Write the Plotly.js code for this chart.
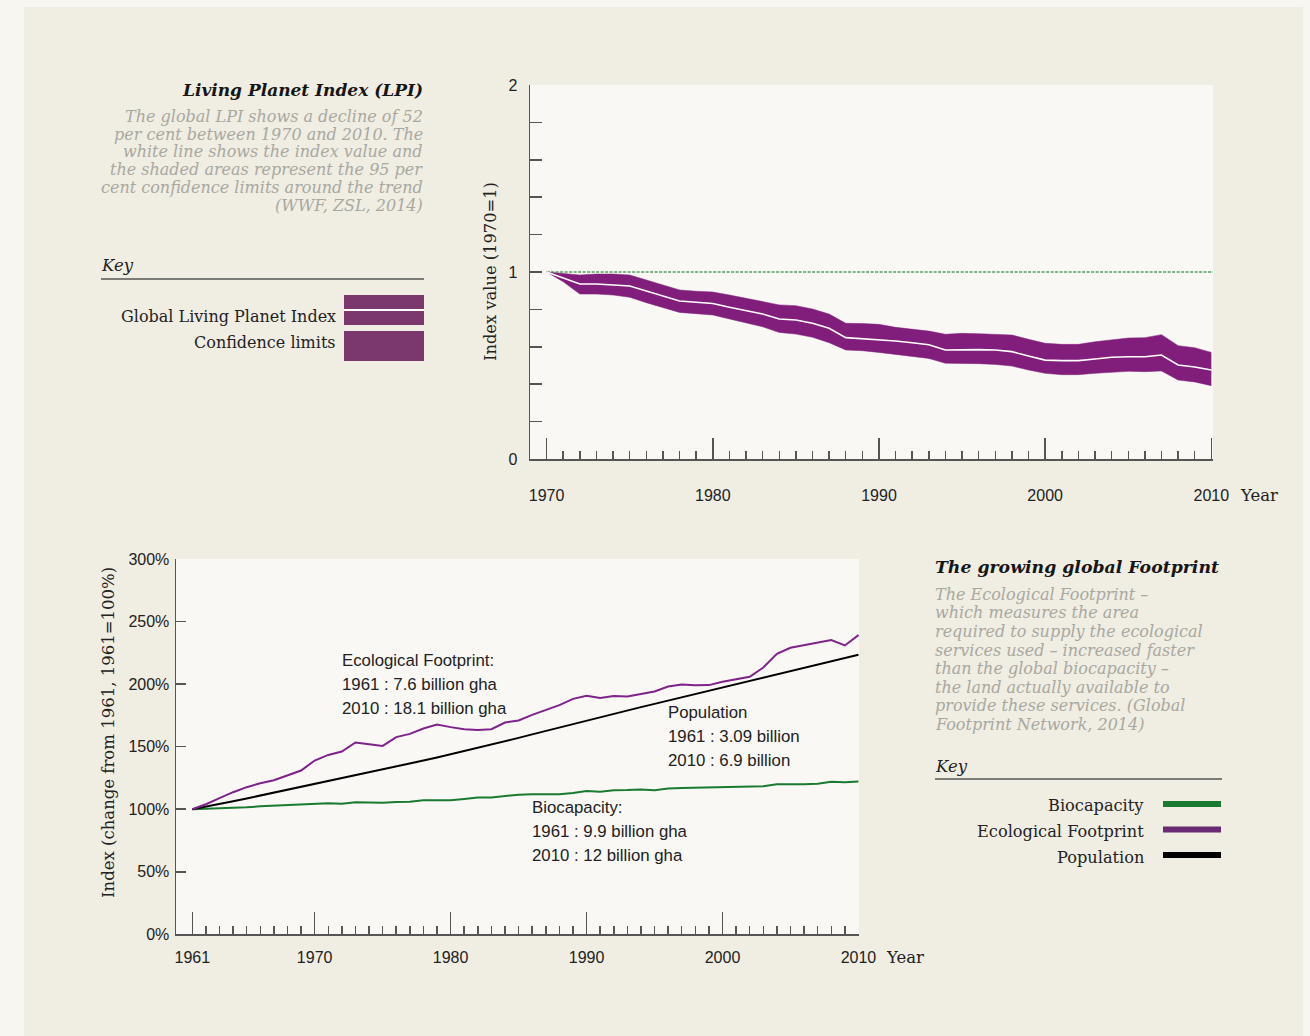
<!DOCTYPE html>
<html><head><meta charset="utf-8">
<script src="https://cdn.plot.ly/plotly-3.0.1.min.js"></script>
<style>
html,body{margin:0;padding:0;background:#f7f6f1;}
#wrap{position:relative;width:1310px;height:1036px;overflow:hidden;}
#panel{position:absolute;left:24px;top:7px;width:1279px;height:1029px;background:#f0ede2;}
#chart{position:absolute;left:0;top:0;width:1310px;height:1036px;}
</style>
</head><body>
<div id="wrap"><div id="panel"></div><div id="chart"></div></div>
<script>
// ---------- Living Planet Index (1970 = 1) ----------
const lpiYears = [1970,1971,1972,1973,1974,1975,1976,1977,1978,1979,1980,1981,1982,1983,1984,1985,1986,1987,1988,1989,1990,
                  1991,1992,1993,1994,1995,1996,1997,1998,1999,2000,2001,2002,2003,2004,2005,2006,2007,2008,2009,2010];
const lpiIndex = [1.000,0.966,0.936,0.936,0.932,0.925,0.898,0.872,0.845,0.838,0.832,0.811,0.791,0.775,0.749,0.743,0.726,0.699,0.649,0.643,0.640,
                  0.631,0.622,0.611,0.583,0.586,0.585,0.583,0.574,0.551,0.529,0.526,0.526,0.535,0.544,0.547,0.547,0.556,0.503,0.492,0.476];
const lpiUpper = [1.000,0.993,0.984,0.989,0.989,0.984,0.957,0.930,0.904,0.897,0.893,0.877,0.859,0.845,0.824,0.820,0.802,0.775,0.726,0.724,0.720,
                  0.704,0.693,0.684,0.667,0.672,0.670,0.668,0.663,0.640,0.619,0.613,0.613,0.627,0.638,0.647,0.649,0.665,0.606,0.595,0.570];
const lpiLower = [1.000,0.948,0.882,0.882,0.877,0.865,0.836,0.809,0.784,0.777,0.770,0.749,0.726,0.707,0.677,0.668,0.651,0.622,0.583,0.579,0.570,
                  0.560,0.551,0.538,0.512,0.512,0.510,0.506,0.497,0.476,0.458,0.451,0.451,0.458,0.465,0.469,0.467,0.471,0.422,0.412,0.392];
const lpiBase = 1;
const lpiMajorTicks = [1970,1980,1990,2000,2010];
const lpiYTicks = [0,0.2,0.4,0.6,0.8,1,1.2,1.4,1.6,1.8,2];
const lpiYTickText = ['0','','','','','1','','','','','2'];

// ---------- Ecological Footprint, Biocapacity, Population (1961 = 100%) ----------
const fpYears = [1961,1962,1963,1964,1965,1966,1967,1968,1969,1970,1971,1972,1973,1974,1975,1976,1977,1978,1979,1980,
                 1981,1982,1983,1984,1985,1986,1987,1988,1989,1990,1991,1992,1993,1994,1995,1996,1997,1998,1999,2000,
                 2001,2002,2003,2004,2005,2006,2007,2008,2009,2010];
const ecoFootprint = [100,104,108.8,113.6,117.6,120.8,123.2,126.9,130.9,138.9,
                      143.4,146.1,153.3,152,150.6,157.6,160.2,164.5,167.7,165.6,
                      164,163.4,164,169.3,170.9,175.4,179.4,183.2,188.2,190.6,
                      188.8,190.4,190.1,192,194.1,198.1,199.6,199.0,199.2,201.8,
                      203.7,205.8,213.3,224.2,229,231.2,233.6,235.2,230.9,239.2];
const biocapacity = [100,100.3,100.6,101,101.5,102.3,102.8,103.2,103.5,104.2,
                     104.8,104.4,105.6,105.4,105.2,105.8,105.9,107.1,107.3,107.2,
                     108.2,109.3,109.4,110.8,111.6,112,112.2,111.9,113.0,114.6,
                     113.9,115.2,115.3,115.8,115.2,116.6,116.9,117.1,117.4,117.8,
                     117.9,118.0,118.3,119.9,119.8,119.9,120.4,121.9,121.6,122.1];
const population = [100,102.0,104.2,106.4,108.6,110.9,113.1,115.4,117.7,120.0,
                    122.4,124.8,127.2,129.6,131.9,134.2,136.5,138.9,141.4,143.9,
                    146.4,149.0,151.6,154.3,157.0,159.8,162.6,165.4,168.2,171.0,
                    173.7,176.3,179.0,181.6,184.2,186.8,189.4,192.0,194.6,197.2,
                    199.8,202.4,205.0,207.6,210.3,213.0,215.6,218.3,220.9,223.5];
const fpMajorTicks = [1961,1970,1980,1990,2000,2010];
const fpYTicks = [0,50,100,150,200,250,300];
const fpYTickText = ['0%','50%','100%','150%','200%','250%','300%'];

// ---------- Texts ----------
const lpiTitle = 'Living Planet Index (LPI)';
const lpiNote = ['The global LPI shows a decline of 52','per cent between 1970 and 2010. The','white line shows the index value and',
                 'the shaded areas represent the 95 per','cent confidence limits around the trend','(WWF, ZSL, 2014)'];
const lpiKeyLabels = ['Global Living Planet Index','Confidence limits'];
const fpTitle = 'The growing global Footprint';
const fpNote = ['The Ecological Footprint –','which measures the area','required to supply the ecological','services used – increased faster',
                'than the global biocapacity –','the land actually available to','provide these services. (Global','Footprint Network, 2014)'];
const fpKeyLabels = ['Biocapacity','Ecological Footprint','Population'];
const efNote = ['Ecological Footprint:','1961 : 7.6 billion gha','2010 : 18.1 billion gha'];
const popNote = ['Population','1961 : 3.09 billion','2010 : 6.9 billion'];
const bioNote = ['Biocapacity:','1961 : 9.9 billion gha','2010 : 12 billion gha'];

// ---------- Styling ----------
const W = 1310, H = 1036;
const SERIF = 'DejaVu Serif, Georgia, serif';
const SANS = 'Liberation Sans, Arial, sans-serif';
const BAND = '#811e7c', KEYPURPLE = '#7b386e';
const GREEN = '#1a7a30', PURPLE = '#7e2389', BLACK = '#000000';
const AX = '#555555', TXT = '#222222', GREY = '#a8a8a1';
const px = x => x / W, py = y => 1 - y / H;

function note(text, x, y, anchor, font) {
  return {xref:'paper', yref:'paper', x:px(x), y:py(y), text:text, showarrow:false,
          xanchor:anchor, yanchor:'middle', font:font};
}
const serif = (size, color) => ({family: SERIF, size: size, color: color});
const annotations = [];

// left text block
annotations.push(note('<b><i>' + lpiTitle + '</i></b>', 425, 90, 'right', serif(17, '#161616')));
lpiNote.forEach((t, i) => annotations.push(note('<i>' + t + '</i>', 425, 116.5 + i * 17.7, 'right', serif(16, GREY))));
annotations.push(note('<i>Key</i>', 99, 265, 'left', serif(16.5, TXT)));
lpiKeyLabels.forEach((t, i) => annotations.push(note(t, 338, 316 + i * 26, 'right', serif(16, TXT))));

// right text block
annotations.push(note('<b><i>' + fpTitle + '</i></b>', 933, 567, 'left', serif(17.3, '#161616')));
fpNote.forEach((t, i) => annotations.push(note('<i>' + t + '</i>', 933, 594.3 + i * 18.6, 'left', serif(16, GREY))));
annotations.push(note('<i>Key</i>', 933, 766, 'left', serif(16.5, TXT)));
fpKeyLabels.forEach((t, i) => annotations.push(note(t, 1146, 805.5 + i * 26, 'right', serif(16.2, TXT))));

// axis titles and "Year"
annotations.push(Object.assign(note('Index value (1970=1)', 491, 272, 'center', serif(16.3, TXT)), {textangle:-90}));
annotations.push(Object.assign(note('Index (change from 1961, 1961=100%)', 108, 733, 'center', serif(16.5, TXT)), {textangle:-90}));
annotations.push(note('Year', 1238, 495, 'left', serif(16.5, TXT)));
annotations.push(note('Year', 884, 957, 'left', serif(16.5, TXT)));

// series notes in the footprint chart
const sansFont = {family: SANS, size: 16.8, color: TXT};
efNote.forEach((t, i) => annotations.push(note(t, 340, 660 + i * 24, 'left', sansFont)));
popNote.forEach((t, i) => annotations.push(note(t, 666, 712 + i * 24, 'left', sansFont)));
bioNote.forEach((t, i) => annotations.push(note(t, 530, 807 + i * 24, 'left', sansFont)));

// key swatches and rules
const shapes = [
  {type:'line', xref:'paper', yref:'paper', x0:px(101), x1:px(424), y0:py(279), y1:py(279), line:{color:AX, width:1.3}},
  {type:'rect', xref:'paper', yref:'paper', x0:px(344), x1:px(424), y0:py(325), y1:py(295), fillcolor:KEYPURPLE, line:{width:0}},
  {type:'line', xref:'paper', yref:'paper', x0:px(344), x1:px(424), y0:py(310), y1:py(310), line:{color:'#ffffff', width:2}},
  {type:'rect', xref:'paper', yref:'paper', x0:px(344), x1:px(424), y0:py(361), y1:py(331), fillcolor:KEYPURPLE, line:{width:0}},
  {type:'line', xref:'paper', yref:'paper', x0:px(935), x1:px(1222), y0:py(779), y1:py(779), line:{color:AX, width:1.3}}
];
[GREEN, '#6b2a74', BLACK].forEach((c, i) => shapes.push(
  {type:'line', xref:'paper', yref:'paper', x0:px(1163), x1:px(1221), y0:py(804 + i * 25.5), y1:py(804 + i * 25.5), line:{color:c, width:6}}));

// ---------- Traces ----------
const traces = [
  {x: lpiYears, y: lpiLower, xaxis:'x', yaxis:'y', mode:'lines', line:{width:0.5, color:BAND}, hoverinfo:'skip', showlegend:false},
  {x: lpiYears, y: lpiUpper, xaxis:'x', yaxis:'y', mode:'lines', fill:'tonexty', fillcolor:BAND, line:{width:0.5, color:BAND}, hoverinfo:'skip', showlegend:false, name:'Confidence limits'},
  {x: [lpiYears[0], lpiYears[lpiYears.length - 1] + 0.1], y: [lpiBase, lpiBase], xaxis:'x', yaxis:'y', mode:'lines',
   line:{width:1.2, color:'#0a6e16', dash:'3px,1.5px'}, hoverinfo:'skip', showlegend:false},
  {x: lpiYears, y: lpiIndex, xaxis:'x', yaxis:'y', mode:'lines', line:{width:1.6, color:'#ffffff'}, name:'Global Living Planet Index', showlegend:false},
  {x: fpYears, y: biocapacity, xaxis:'x2', yaxis:'y2', mode:'lines', line:{width:2, color:GREEN}, name:'Biocapacity', showlegend:false},
  {x: fpYears, y: population, xaxis:'x2', yaxis:'y2', mode:'lines', line:{width:2, color:BLACK}, name:'Population', showlegend:false},
  {x: fpYears, y: ecoFootprint, xaxis:'x2', yaxis:'y2', mode:'lines', line:{width:2, color:PURPLE}, name:'Ecological Footprint', showlegend:false}
];

const tickFont = {family: SANS, size: 16, color: TXT};
const baseAxis = {showgrid:false, zeroline:false, showline:true, linecolor:AX, linewidth:1.5, ticks:'inside',
                  tickcolor:AX, tickwidth:1.5, tickfont:tickFont, fixedrange:true};

const layout = {
  width: W, height: H,
  margin: {l:0, r:0, t:0, b:0, pad:0},
  paper_bgcolor: 'rgba(0,0,0,0)',
  plot_bgcolor: '#f9f8f4',
  showlegend: false,
  xaxis: Object.assign({}, baseAxis, {
    domain:[px(530), px(1213)], range:[1969, 2010.1], anchor:'y',
    tickmode:'array', tickvals: lpiMajorTicks, ticklen:21, ticklabelstandoff:21,
    minor:{tickmode:'array', tickvals: lpiYears.filter(y => lpiMajorTicks.indexOf(y) < 0), ticks:'inside', ticklen:8, tickcolor:AX, tickwidth:1.5, showgrid:false}
  }),
  yaxis: Object.assign({}, baseAxis, {
    domain:[py(459), py(85)], range:[0, 2], anchor:'x',
    tickmode:'array', tickvals: lpiYTicks, ticktext: lpiYTickText, ticklen:12, ticklabelstandoff:8
  }),
  xaxis2: Object.assign({}, baseAxis, {
    domain:[px(176), px(859)], range:[1959.8, 2010.04], anchor:'y2',
    tickmode:'array', tickvals: fpMajorTicks, ticklen:22, ticklabelstandoff:8,
    minor:{tickmode:'array', tickvals: fpYears.filter(y => fpMajorTicks.indexOf(y) < 0), ticks:'inside', ticklen:8, tickcolor:AX, tickwidth:1.5, showgrid:false}
  }),
  yaxis2: Object.assign({}, baseAxis, {
    domain:[py(934.3), py(559)], range:[0, 300], anchor:'x2',
    tickmode:'array', tickvals: fpYTicks, ticktext: fpYTickText, ticklen:10, ticklabelstandoff:2
  }),
  annotations: annotations,
  shapes: shapes
};

Plotly.newPlot('chart', traces, layout, {displayModeBar:false, staticPlot:true});
</script>
</body></html>
